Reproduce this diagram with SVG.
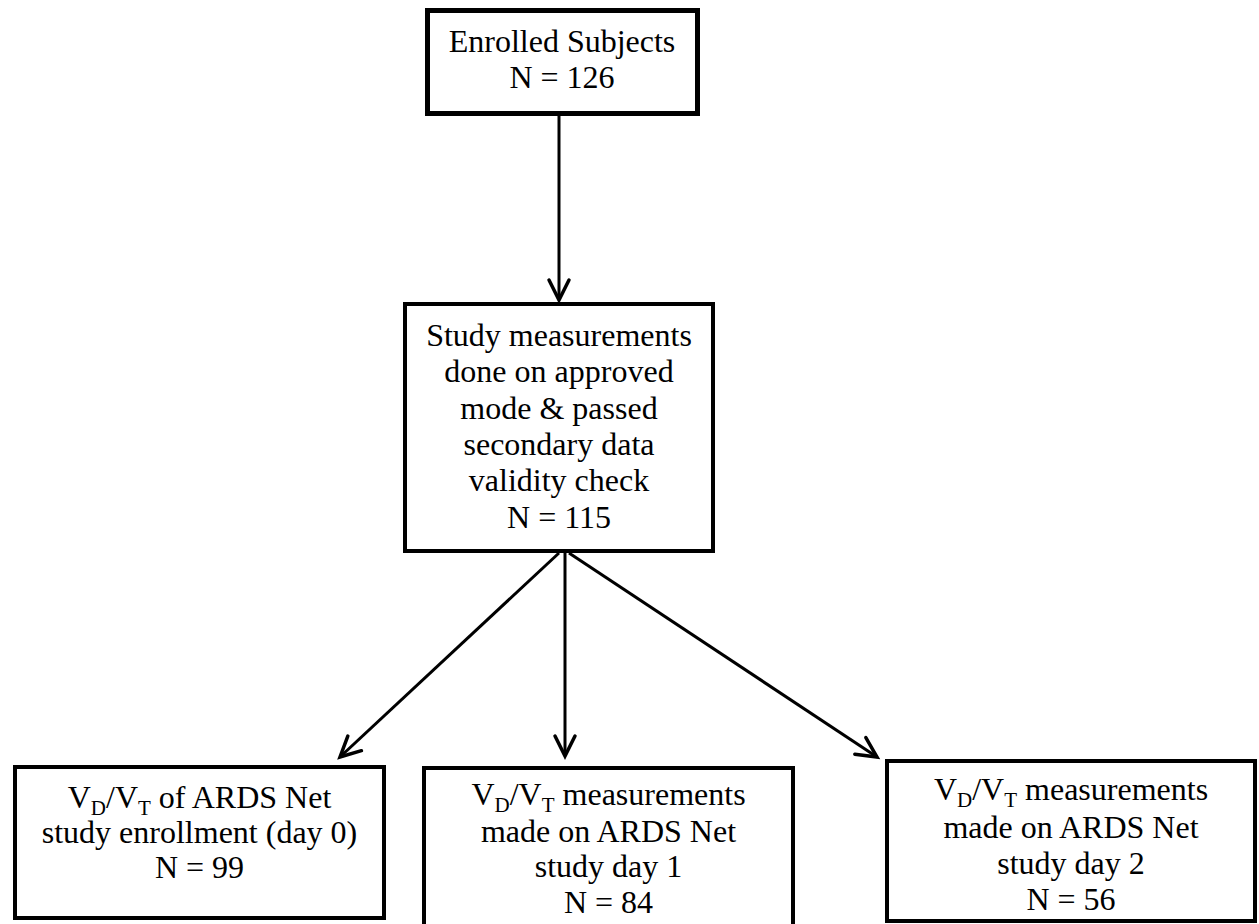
<svg xmlns="http://www.w3.org/2000/svg" width="1259" height="924" viewBox="0 0 1259 924">
<style>
.box{fill:#fff;stroke:#000;stroke-width:4}
.thick{stroke-width:5}
.t{font-family:"Liberation Serif","Times New Roman",serif;font-size:32px;fill:#000;text-anchor:middle}
.sub{font-size:21px}
.conn{stroke:#000;stroke-width:3;fill:none}
</style>
<defs>
<marker id="arr" markerUnits="userSpaceOnUse" markerWidth="40" markerHeight="40" refX="0" refY="0" viewBox="-30 -20 40 40" orient="auto" overflow="visible">
<path d="M-20,-10 L0,0 L-20,10" fill="none" stroke="#000" stroke-width="3.5" stroke-linecap="round" stroke-linejoin="miter"/>
</marker>
</defs>
<rect width="1259" height="924" fill="#fff"/>
<g id="connectors">
<line class="conn" x1="559" y1="116" x2="559" y2="300" marker-end="url(#arr)"/>
<line class="conn" x1="559" y1="553" x2="340" y2="757" marker-end="url(#arr)"/>
<line class="conn" x1="565" y1="553" x2="565" y2="756" marker-end="url(#arr)"/>
<line class="conn" x1="569" y1="553" x2="877" y2="757" marker-end="url(#arr)"/>
</g>
<g id="enrolled">
<rect class="box thick" x="427.5" y="10.5" width="270" height="103"/>
<text class="t" x="562" y="52">Enrolled Subjects</text>
<text class="t" x="562" y="88">N = 126</text>
</g>
<g id="study">
<rect class="box" x="405" y="304" width="308" height="247"/>
<text class="t" x="559" y="345.5">Study measurements</text>
<text class="t" x="559" y="382">done on approved</text>
<text class="t" x="559" y="418.5">mode &amp; passed</text>
<text class="t" x="559" y="454.5">secondary data</text>
<text class="t" x="559" y="491">validity check</text>
<text class="t" x="559" y="527.5">N = 115</text>
</g>
<g id="day0">
<rect class="box" x="15" y="767" width="369" height="151"/>
<text class="t" x="199.5" y="808">V<tspan class="sub" dy="7">D</tspan><tspan dy="-7">/V</tspan><tspan class="sub" dy="7">T</tspan><tspan dy="-7"> of ARDS Net</tspan></text>
<text class="t" x="199.5" y="843">study enrollment (day 0)</text>
<text class="t" x="199.5" y="878">N = 99</text>
</g>
<g id="day1">
<rect class="box" x="424" y="768" width="369" height="160"/>
<text class="t" x="608.5" y="805">V<tspan class="sub" dy="7">D</tspan><tspan dy="-7">/V</tspan><tspan class="sub" dy="7">T</tspan><tspan dy="-7"> measurements</tspan></text>
<text class="t" x="608.5" y="841.5">made on ARDS Net</text>
<text class="t" x="608.5" y="877">study day 1</text>
<text class="t" x="608.5" y="913">N = 84</text>
</g>
<g id="day2">
<rect class="box" x="887" y="761" width="368" height="160"/>
<text class="t" x="1071" y="800">V<tspan class="sub" dy="7">D</tspan><tspan dy="-7">/V</tspan><tspan class="sub" dy="7">T</tspan><tspan dy="-7"> measurements</tspan></text>
<text class="t" x="1071" y="837.5">made on ARDS Net</text>
<text class="t" x="1071" y="873.5">study day 2</text>
<text class="t" x="1071" y="910">N = 56</text>
</g>
</svg>
